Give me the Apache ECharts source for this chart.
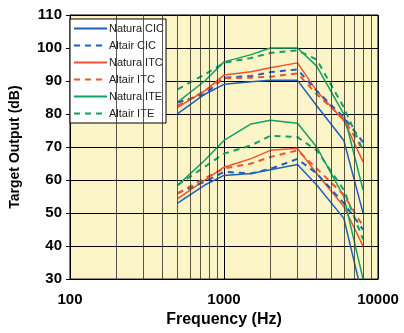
<!DOCTYPE html>
<html>
<head>
<meta charset="utf-8">
<script src="https://cdn.jsdelivr.net/npm/echarts@6/dist/echarts.min.js"></script>
<style>
  html, body { margin: 0; padding: 0; background: #fff; }
  #chart { width: 404px; height: 333px; }
</style>
</head>
<body>
<div id="chart"></div>
<script>
// frequencies (Hz) where the curves have points
const freqs = [500, 750, 1000, 1500, 2000, 3000, 4000, 6000, 8000]

// upper group
const naturaCicHi = [80.1, 86, 89, 89.8, 90.2, 90.2, 82.5, 72, 50]
const altairCicHi = [83.5, 86, 91, 91.5, 92.7, 93.5, 87, 79, 71.5]
const naturaItcHi = [82, 87, 91.8, 92.8, 94, 95.5, 87, 78, 65.5]
const altairItcHi = [82.5, 87, 90.8, 91, 91.3, 92.3, 86, 78.5, 69]
const naturaIteHi = [83.6, 90, 95.8, 98, 100, 100, 94.5, 80, 57]
const altairIteHi = [87.5, 92, 95.5, 97, 98.5, 99.3, 96.5, 82, 69]

// lower group
const naturaCicLo = [53, 58.5, 61.4, 62, 63.1, 64.7, 58.5, 48.4, 24]
const altairCicLo = [56, 59.5, 62.5, 62, 63.4, 66.4, 62, 53, 45]
const naturaItcLo = [54.4, 60, 63.9, 66.5, 69, 69.6, 62, 52, 40]
const altairItcLo = [56, 60.5, 63.5, 65, 67, 69, 63.5, 55.5, 46]
const naturaIteLo = [58.4, 66, 72, 77, 78.1, 77.2, 70, 55, 30]
const altairIteLo = [58.5, 64, 68, 70.5, 73.4, 73, 69, 57, 42]

// extra vertical grid lines inside each decade
const minorFreqs = [200, 300, 400, 500, 600, 700, 800, 900,
  2000, 3000, 4000, 5000, 6000, 7000, 8000, 9000]

const legendNames = ['Natura CIC', 'Altair CIC', 'Natura ITC', 'Altair ITC', 'Natura ITE', 'Altair ITE']

const BLUE = '#1f5fbf'
const RED = '#f2522e'
const GREEN = '#13a064'

function pairs(vals) {
  return freqs.map((f, i) => [f, vals[i]])
}

function line(name, vals, color, dashed) {
  return {
    name: name,
    type: 'line',
    data: pairs(vals),
    symbol: 'none',
    color: color,
    lineStyle: {
      color: color,
      width: dashed ? 2 : 1.5,
      type: dashed ? [6, 5] : 'solid'
    },
    z: dashed ? 4 : 3
  }
}

const chart = echarts.init(document.getElementById('chart'))

chart.setOption({
  animation: false,
  textStyle: { fontFamily: 'Liberation Sans, Arial, sans-serif' },
  grid: {
    left: 65,
    right: 26,
    top: 15,
    bottom: 52,
    show: true,
    backgroundColor: '#fbf4c6',
    borderColor: '#000',
    borderWidth: 1
  },
  legend: {
    orient: 'vertical',
    left: 70,
    top: 19,
    backgroundColor: '#fff',
    borderColor: '#000',
    borderWidth: 1,
    borderRadius: 0,
    padding: [4, 2, 4, 3],
    itemWidth: 33,
    itemHeight: 10,
    itemGap: 6,
    itemStyle: { opacity: 0 },
    textStyle: { fontSize: 11, color: '#222', padding: [0, 0, 0, -3] },
    data: legendNames
  },
  xAxis: {
    type: 'log',
    logBase: 10,
    min: 100,
    max: 10000,
    name: 'Frequency (Hz)',
    nameLocation: 'middle',
    nameGap: 31,
    nameTextStyle: { fontSize: 16, fontWeight: 'bold', color: '#000' },
    axisLine: { lineStyle: { color: '#000' } },
    axisTick: { show: false },
    axisLabel: {
      fontSize: 15,
      fontWeight: 'bold',
      color: '#000',
      margin: 13,
      formatter: v => String(Math.round(v))
    },
    splitLine: { show: true, lineStyle: { color: '#000', width: 1 } }
  },
  yAxis: {
    type: 'value',
    min: 30,
    max: 110,
    interval: 10,
    name: 'Target Output (dB)',
    nameLocation: 'middle',
    nameGap: 48,
    nameTextStyle: { fontSize: 14, fontWeight: 'bold', color: '#000' },
    axisLine: { show: true, lineStyle: { color: '#000' } },
    axisTick: { show: true, length: 4, inside: false, lineStyle: { color: '#000' } },
    axisLabel: { fontSize: 15, fontWeight: 'bold', color: '#000', margin: 8 },
    splitLine: { show: true, lineStyle: { color: '#000', width: 1 } }
  },
  series: [
    {
      type: 'line',
      data: [],
      silent: true,
      markLine: {
        symbol: 'none',
        silent: true,
        label: { show: false },
        lineStyle: { color: '#3a3a30', type: 'solid', width: 1, opacity: 0.85 },
        data: minorFreqs.map(f => ({ xAxis: f }))
      }
    },
    line('Natura CIC', naturaCicHi, BLUE, false),
    line('Natura CIC', naturaCicLo, BLUE, false),
    line('Altair CIC', altairCicHi, BLUE, true),
    line('Altair CIC', altairCicLo, BLUE, true),
    line('Natura ITC', naturaItcHi, RED, false),
    line('Natura ITC', naturaItcLo, RED, false),
    line('Altair ITC', altairItcHi, RED, true),
    line('Altair ITC', altairItcLo, RED, true),
    line('Natura ITE', naturaIteHi, GREEN, false),
    line('Natura ITE', naturaIteLo, GREEN, false),
    line('Altair ITE', altairIteHi, GREEN, true),
    line('Altair ITE', altairIteLo, GREEN, true)
  ]
})
</script>
</body>
</html>
